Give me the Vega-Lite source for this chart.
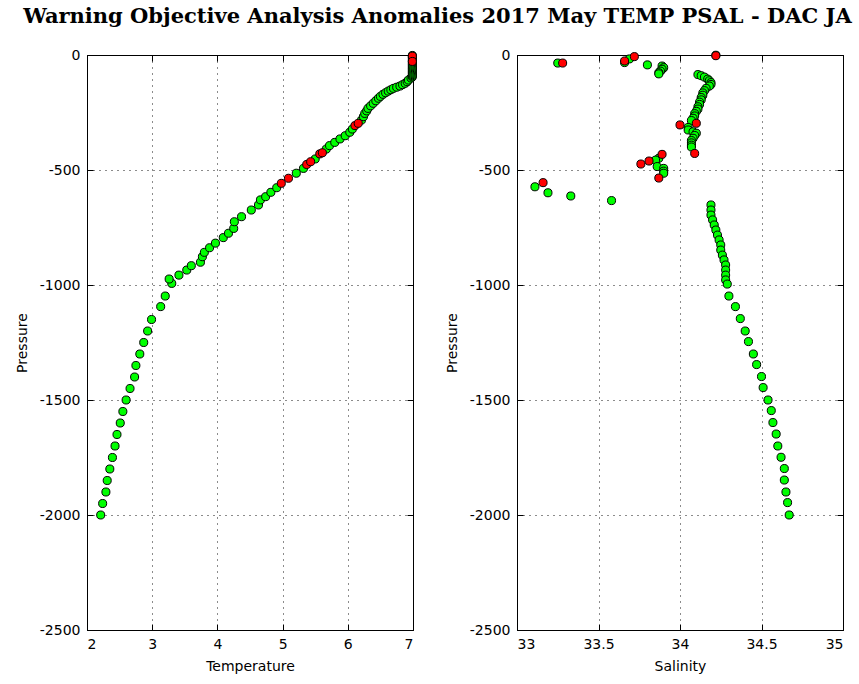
{
  "$schema": "https://vega.github.io/schema/vega-lite/v6.json",
  "title": {"text": "Warning Objective Analysis Anomalies 2017 May TEMP PSAL - DAC JA", "font": "DejaVu Serif", "fontSize": 21, "fontWeight": "bold", "anchor": "middle", "offset": 21, "dx": 8, "color": "black"},
  "padding": {"left": 14, "top": 5, "right": 5, "bottom": 5},
  "spacing": 104,
  "bounds": "flush",
  "datasets": {
    "temp": [
      {"p": -2000, "v": 2.21, "f": "g"}, {"p": -1950, "v": 2.24, "f": "g"}, {"p": -1900, "v": 2.29, "f": "g"}, {"p": -1850, "v": 2.31, "f": "g"},
      {"p": -1800, "v": 2.35, "f": "g"}, {"p": -1750, "v": 2.39, "f": "g"}, {"p": -1700, "v": 2.43, "f": "g"}, {"p": -1650, "v": 2.46, "f": "g"},
      {"p": -1600, "v": 2.51, "f": "g"}, {"p": -1550, "v": 2.55, "f": "g"}, {"p": -1500, "v": 2.60, "f": "g"}, {"p": -1450, "v": 2.66, "f": "g"},
      {"p": -1400, "v": 2.73, "f": "g"}, {"p": -1350, "v": 2.75, "f": "g"}, {"p": -1300, "v": 2.81, "f": "g"}, {"p": -1250, "v": 2.87, "f": "g"},
      {"p": -1200, "v": 2.93, "f": "g"}, {"p": -1150, "v": 2.99, "f": "g"}, {"p": -1094, "v": 3.13, "f": "g"}, {"p": -1048, "v": 3.20, "f": "g"},
      {"p": -993, "v": 3.30, "f": "g"}, {"p": -974, "v": 3.26, "f": "g"}, {"p": -957, "v": 3.41, "f": "g"}, {"p": -935, "v": 3.53, "f": "g"},
      {"p": -916, "v": 3.60, "f": "g"}, {"p": -901, "v": 3.74, "f": "g"}, {"p": -877, "v": 3.77, "f": "g"}, {"p": -858, "v": 3.80, "f": "g"},
      {"p": -838, "v": 3.88, "f": "g"}, {"p": -818, "v": 3.97, "f": "g"}, {"p": -794, "v": 4.09, "f": "g"}, {"p": -775, "v": 4.17, "f": "g"},
      {"p": -754, "v": 4.25, "f": "g"}, {"p": -725, "v": 4.26, "f": "g"}, {"p": -703, "v": 4.37, "f": "g"}, {"p": -674, "v": 4.52, "f": "g"},
      {"p": -652, "v": 4.63, "f": "g"}, {"p": -630, "v": 4.66, "f": "g"}, {"p": -616, "v": 4.74, "f": "g"}, {"p": -597, "v": 4.82, "f": "g"},
      {"p": -577, "v": 4.91, "f": "g"}, {"p": -514, "v": 5.21, "f": "g"}, {"p": -493, "v": 5.32, "f": "g"}, {"p": -452, "v": 5.50, "f": "g"},
      {"p": -409, "v": 5.67, "f": "g"}, {"p": -394, "v": 5.72, "f": "g"}, {"p": -380, "v": 5.80, "f": "g"}, {"p": -365, "v": 5.88, "f": "g"},
      {"p": -351, "v": 5.96, "f": "g"}, {"p": -336, "v": 6.03, "f": "g"}, {"p": -322, "v": 6.07, "f": "g"}, {"p": -283, "v": 6.21, "f": "g"},
      {"p": -268, "v": 6.24, "f": "g"}, {"p": -254, "v": 6.26, "f": "g"}, {"p": -243, "v": 6.29, "f": "g"}, {"p": -232, "v": 6.31, "f": "g"},
      {"p": -221, "v": 6.35, "f": "g"}, {"p": -210, "v": 6.39, "f": "g"}, {"p": -199, "v": 6.43, "f": "g"}, {"p": -188, "v": 6.47, "f": "g"},
      {"p": -180, "v": 6.50, "f": "g"}, {"p": -171, "v": 6.54, "f": "g"}, {"p": -164, "v": 6.58, "f": "g"}, {"p": -157, "v": 6.62, "f": "g"},
      {"p": -151, "v": 6.66, "f": "g"}, {"p": -145, "v": 6.70, "f": "g"}, {"p": -140, "v": 6.75, "f": "g"}, {"p": -135, "v": 6.80, "f": "g"},
      {"p": -129, "v": 6.84, "f": "g"}, {"p": -123, "v": 6.88, "f": "g"}, {"p": -116, "v": 6.91, "f": "g"}, {"p": -109, "v": 6.93, "f": "g"},
      {"p": -100, "v": 6.97, "f": "g"}, {"p": -95, "v": 6.99, "f": "g"}, {"p": -90, "v": 6.99, "f": "g"}, {"p": -85, "v": 6.99, "f": "g"},
      {"p": -80, "v": 6.99, "f": "g"}, {"p": -75, "v": 6.99, "f": "g"}, {"p": -70, "v": 6.99, "f": "g"}, {"p": -65, "v": 6.99, "f": "g"},
      {"p": -60, "v": 6.99, "f": "g"}, {"p": -55, "v": 6.99, "f": "g"}, {"p": -50, "v": 6.99, "f": "g"}, {"p": -45, "v": 6.99, "f": "g"},
      {"p": -40, "v": 6.99, "f": "g"}, {"p": -35, "v": 6.99, "f": "g"}, {"p": -30, "v": 6.99, "f": "g"}, {"p": -24, "v": 6.99, "f": "g"},
      {"p": -18, "v": 6.99, "f": "g"}, {"p": -12, "v": 6.99, "f": "g"}, {"p": -8, "v": 6.99, "f": "g"}, {"p": -2, "v": 6.99, "f": "g"},
      {"p": -558, "v": 4.98, "f": "r"}, {"p": -536, "v": 5.09, "f": "r"}, {"p": -476, "v": 5.37, "f": "r"}, {"p": -464, "v": 5.43, "f": "r"},
      {"p": -430, "v": 5.57, "f": "r"}, {"p": -425, "v": 5.61, "f": "r"}, {"p": -307, "v": 6.11, "f": "r"}, {"p": -297, "v": 6.16, "f": "r"},
      {"p": -5, "v": 6.99, "f": "r"}, {"p": -28, "v": 6.99, "f": "r"}
    ],
    "psal": [
      {"p": -35, "v": 33.25, "f": "g"}, {"p": -33, "v": 33.66, "f": "g"}, {"p": -17, "v": 33.69, "f": "g"}, {"p": -43, "v": 33.80, "f": "g"},
      {"p": -48, "v": 33.89, "f": "g"}, {"p": -55, "v": 33.90, "f": "g"}, {"p": -62, "v": 33.89, "f": "g"}, {"p": -70, "v": 33.88, "f": "g"},
      {"p": -77, "v": 33.87, "f": "g"}, {"p": -82, "v": 33.87, "f": "g"}, {"p": -1, "v": 34.22, "f": "g"},
      {"p": -85, "v": 34.11, "f": "g"}, {"p": -90, "v": 34.13, "f": "g"}, {"p": -96, "v": 34.15, "f": "g"}, {"p": -105, "v": 34.17, "f": "g"},
      {"p": -112, "v": 34.18, "f": "g"}, {"p": -120, "v": 34.19, "f": "g"}, {"p": -128, "v": 34.19, "f": "g"}, {"p": -135, "v": 34.18, "f": "g"},
      {"p": -145, "v": 34.16, "f": "g"}, {"p": -155, "v": 34.15, "f": "g"}, {"p": -165, "v": 34.14, "f": "g"}, {"p": -175, "v": 34.14, "f": "g"},
      {"p": -185, "v": 34.13, "f": "g"}, {"p": -195, "v": 34.13, "f": "g"}, {"p": -205, "v": 34.12, "f": "g"}, {"p": -215, "v": 34.12, "f": "g"},
      {"p": -225, "v": 34.11, "f": "g"}, {"p": -235, "v": 34.11, "f": "g"}, {"p": -245, "v": 34.10, "f": "g"}, {"p": -255, "v": 34.09, "f": "g"},
      {"p": -265, "v": 34.09, "f": "g"}, {"p": -275, "v": 34.08, "f": "g"}, {"p": -285, "v": 34.07, "f": "g"},
      {"p": -315, "v": 34.05, "f": "g"}, {"p": -326, "v": 34.05, "f": "g"}, {"p": -334, "v": 34.08, "f": "g"}, {"p": -340, "v": 34.10, "f": "g"},
      {"p": -350, "v": 34.09, "f": "g"}, {"p": -362, "v": 34.08, "f": "g"}, {"p": -372, "v": 34.07, "f": "g"}, {"p": -382, "v": 34.07, "f": "g"},
      {"p": -392, "v": 34.07, "f": "g"}, {"p": -400, "v": 34.07, "f": "g"},
      {"p": -449, "v": 33.87, "f": "g"}, {"p": -457, "v": 33.85, "f": "g"}, {"p": -485, "v": 33.86, "f": "g"}, {"p": -493, "v": 33.90, "f": "g"},
      {"p": -505, "v": 33.90, "f": "g"}, {"p": -514, "v": 33.90, "f": "g"},
      {"p": -573, "v": 33.11, "f": "g"}, {"p": -599, "v": 33.19, "f": "g"}, {"p": -613, "v": 33.33, "f": "g"}, {"p": -633, "v": 33.58, "f": "g"},
      {"p": -652, "v": 34.19, "f": "g"}, {"p": -674, "v": 34.19, "f": "g"}, {"p": -696, "v": 34.19, "f": "g"}, {"p": -717, "v": 34.20, "f": "g"},
      {"p": -739, "v": 34.21, "f": "g"}, {"p": -761, "v": 34.22, "f": "g"}, {"p": -783, "v": 34.23, "f": "g"}, {"p": -804, "v": 34.24, "f": "g"},
      {"p": -826, "v": 34.25, "f": "g"}, {"p": -848, "v": 34.25, "f": "g"}, {"p": -870, "v": 34.26, "f": "g"}, {"p": -891, "v": 34.27, "f": "g"},
      {"p": -913, "v": 34.28, "f": "g"}, {"p": -935, "v": 34.28, "f": "g"}, {"p": -957, "v": 34.28, "f": "g"}, {"p": -978, "v": 34.28, "f": "g"},
      {"p": -996, "v": 34.29, "f": "g"}, {"p": -1048, "v": 34.30, "f": "g"}, {"p": -1094, "v": 34.34, "f": "g"}, {"p": -1146, "v": 34.37, "f": "g"},
      {"p": -1200, "v": 34.40, "f": "g"}, {"p": -1246, "v": 34.42, "f": "g"}, {"p": -1300, "v": 34.45, "f": "g"}, {"p": -1346, "v": 34.47, "f": "g"},
      {"p": -1398, "v": 34.50, "f": "g"}, {"p": -1446, "v": 34.51, "f": "g"}, {"p": -1500, "v": 34.54, "f": "g"}, {"p": -1546, "v": 34.56, "f": "g"},
      {"p": -1598, "v": 34.57, "f": "g"}, {"p": -1648, "v": 34.59, "f": "g"}, {"p": -1700, "v": 34.60, "f": "g"}, {"p": -1749, "v": 34.62, "f": "g"},
      {"p": -1798, "v": 34.64, "f": "g"}, {"p": -1848, "v": 34.64, "f": "g"}, {"p": -1900, "v": 34.65, "f": "g"}, {"p": -1946, "v": 34.66, "f": "g"},
      {"p": -2000, "v": 34.67, "f": "g"},
      {"p": -35, "v": 33.28, "f": "r"}, {"p": -26, "v": 33.66, "f": "r"}, {"p": -7, "v": 33.72, "f": "r"}, {"p": -3, "v": 34.22, "f": "r"},
      {"p": -297, "v": 34.10, "f": "r"}, {"p": -304, "v": 34.00, "f": "r"}, {"p": -428, "v": 34.09, "f": "r"},
      {"p": -432, "v": 33.89, "f": "r"}, {"p": -461, "v": 33.81, "f": "r"}, {"p": -474, "v": 33.76, "f": "r"}, {"p": -535, "v": 33.87, "f": "r"},
      {"p": -555, "v": 33.16, "f": "r"}
    ]
  },
  "hconcat": [
    {
      "width": 326, "height": 575,
      "data": {"name": "temp"},
      "resolve": {"axis": {"x": "independent", "y": "independent"}},
      "layer": [
        {
          "transform": [{"filter": "false"}],
          "mark": {"type": "circle", "size": 65},
          "encoding": {
            "x": {"field": "v", "type": "quantitative", "scale": {"domain": [2, 7], "nice": false, "zero": false}, "axis": {"orient": "top", "title": null, "labels": false, "grid": false, "domain": false, "values": [2, 3, 4, 5, 6, 7]}},
            "y": {"field": "p", "type": "quantitative", "scale": {"domain": [-2500, 0], "nice": false}, "axis": {"orient": "right", "title": null, "labels": false, "grid": false, "domain": false, "values": [0, -500, -1000, -1500, -2000, -2500]}}
          }
        },
        {
          "mark": {"type": "circle", "size": 65, "stroke": "black", "strokeWidth": 1, "opacity": 1},
          "encoding": {
            "x": {"field": "v", "type": "quantitative", "scale": {"domain": [2, 7], "nice": false, "zero": false}, "axis": {"title": "Temperature", "grid": true, "values": [2, 3, 4, 5, 6, 7], "labelExpr": "'' + datum.value"}},
            "y": {"field": "p", "type": "quantitative", "scale": {"domain": [-2500, 0], "nice": false}, "axis": {"title": "Pressure", "grid": true, "values": [0, -500, -1000, -1500, -2000, -2500], "labelExpr": "'' + datum.value"}},
            "fill": {"field": "f", "type": "nominal", "scale": {"domain": ["g", "r"], "range": ["#00ff00", "#ff0000"]}, "legend": null}
          }
        }
      ]
    },
    {
      "width": 326, "height": 575,
      "data": {"name": "psal"},
      "resolve": {"axis": {"x": "independent", "y": "independent"}},
      "layer": [
        {
          "transform": [{"filter": "false"}],
          "mark": {"type": "circle", "size": 65},
          "encoding": {
            "x": {"field": "v", "type": "quantitative", "scale": {"domain": [33, 35], "nice": false, "zero": false}, "axis": {"orient": "top", "title": null, "labels": false, "grid": false, "domain": false, "values": [33, 33.5, 34, 34.5, 35]}},
            "y": {"field": "p", "type": "quantitative", "scale": {"domain": [-2500, 0], "nice": false}, "axis": {"orient": "right", "title": null, "labels": false, "grid": false, "domain": false, "values": [0, -500, -1000, -1500, -2000, -2500]}}
          }
        },
        {
          "mark": {"type": "circle", "size": 65, "stroke": "black", "strokeWidth": 1, "opacity": 1},
          "encoding": {
            "x": {"field": "v", "type": "quantitative", "scale": {"domain": [33, 35], "nice": false, "zero": false}, "axis": {"title": "Salinity", "grid": true, "values": [33, 33.5, 34, 34.5, 35], "labelExpr": "'' + datum.value"}},
            "y": {"field": "p", "type": "quantitative", "scale": {"domain": [-2500, 0], "nice": false}, "axis": {"title": "Pressure", "grid": true, "values": [0, -500, -1000, -1500, -2000, -2500], "labelExpr": "'' + datum.value"}},
            "fill": {"field": "f", "type": "nominal", "scale": {"domain": ["g", "r"], "range": ["#00ff00", "#ff0000"]}, "legend": null}
          }
        }
      ]
    }
  ],
  "config": {
    "view": {"stroke": "black", "strokeWidth": 1},
    "axis": {
      "labelFont": "DejaVu Sans", "labelFontSize": 14, "labelColor": "black",
      "titleFont": "DejaVu Sans", "titleFontSize": 14, "titleFontWeight": "normal", "titleColor": "black",
      "domainColor": "black", "tickColor": "black", "tickSize": -6, "labelPadding": 13,
      "grid": true, "gridDash": [1, 5], "gridColor": "black", "gridOpacity": 0.9
    },
    "axisX": {"titlePadding": 8},
    "axisY": {"titlePadding": 10}
  }
}
